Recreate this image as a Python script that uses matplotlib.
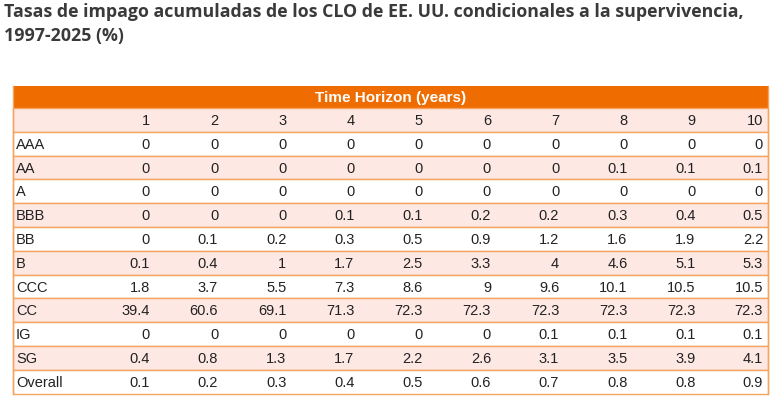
import matplotlib.pyplot as plt
from matplotlib.patches import Rectangle

title = "Tasas de impago acumuladas de los CLO de EE. UU. condicionales a la supervivencia,\n1997-2025 (%)"
header = "Time Horizon (years)"
years = ["1", "2", "3", "4", "5", "6", "7", "8", "9", "10"]
ratings = ["AAA", "AA", "A", "BBB", "BB", "B", "CCC", "CC", "IG", "SG", "Overall"]
valores = [
    [0, 0, 0, 0, 0, 0, 0, 0, 0, 0],
    [0, 0, 0, 0, 0, 0, 0, 0.1, 0.1, 0.1],
    [0, 0, 0, 0, 0, 0, 0, 0, 0, 0],
    [0, 0, 0, 0.1, 0.1, 0.2, 0.2, 0.3, 0.4, 0.5],
    [0, 0.1, 0.2, 0.3, 0.5, 0.9, 1.2, 1.6, 1.9, 2.2],
    [0.1, 0.4, 1, 1.7, 2.5, 3.3, 4, 4.6, 5.1, 5.3],
    [1.8, 3.7, 5.5, 7.3, 8.6, 9, 9.6, 10.1, 10.5, 10.5],
    [39.4, 60.6, 69.1, 71.3, 72.3, 72.3, 72.3, 72.3, 72.3, 72.3],
    [0, 0, 0, 0, 0, 0, 0.1, 0.1, 0.1, 0.1],
    [0.4, 0.8, 1.3, 1.7, 2.2, 2.6, 3.1, 3.5, 3.9, 4.1],
    [0.1, 0.2, 0.3, 0.4, 0.5, 0.6, 0.7, 0.8, 0.8, 0.9],
]

naranja = "#ef6c00"
rosa = "#fde8e4"
borde = "#f4a460"

fig = plt.figure(figsize=(7.81, 4.15), dpi=100)
ax = fig.add_axes([0, 0, 1, 1])
ax.set_xlim(0, 781)
ax.set_ylim(415, 0)
ax.axis("off")

ax.text(4, 3, title, fontsize=12.8, fontweight="bold", color="#3a3a3a",
        family="Open Sans", va="top", ha="left", linespacing=1.45)

x0, x1 = 13, 768
top, h0 = 86, 22
rh = 23.8
ax.add_patch(Rectangle((x0, top), x1 - x0, h0, color=naranja, lw=0))
ax.text((x0 + x1) / 2, top + h0 / 2 + 1, header, color="white", fontweight="bold",
        fontsize=11, ha="center", va="center", family="Liberation Sans")

col_right = [150 + 68.2 * i for i in range(10)]
filas = [""] + ratings
for r, nombre in enumerate(filas):
    y = top + h0 + r * rh
    ax.add_patch(Rectangle((x0, y), x1 - x0, rh, facecolor=rosa if r % 2 == 0 else "white",
                           edgecolor=borde, lw=1))
    yc = y + rh / 2 + 1
    ax.text(x0 + 3, yc, nombre, fontsize=10.5, va="center", ha="left",
            family="Liberation Sans", color="#222222")
    celdas = years if r == 0 else [f"{v:g}" for v in valores[r - 1]]
    for c, txt in enumerate(celdas):
        ax.text(col_right[c] if c < 9 else 763, yc, txt, fontsize=10.5, va="center",
                ha="right", family="Liberation Sans", color="#222222")

ax.plot([x0, x0], [top, top + h0 + len(filas) * rh], color=borde, lw=1)
ax.plot([x1, x1], [top, top + h0 + len(filas) * rh], color=borde, lw=1)

fig.savefig("out.png", dpi=100)
